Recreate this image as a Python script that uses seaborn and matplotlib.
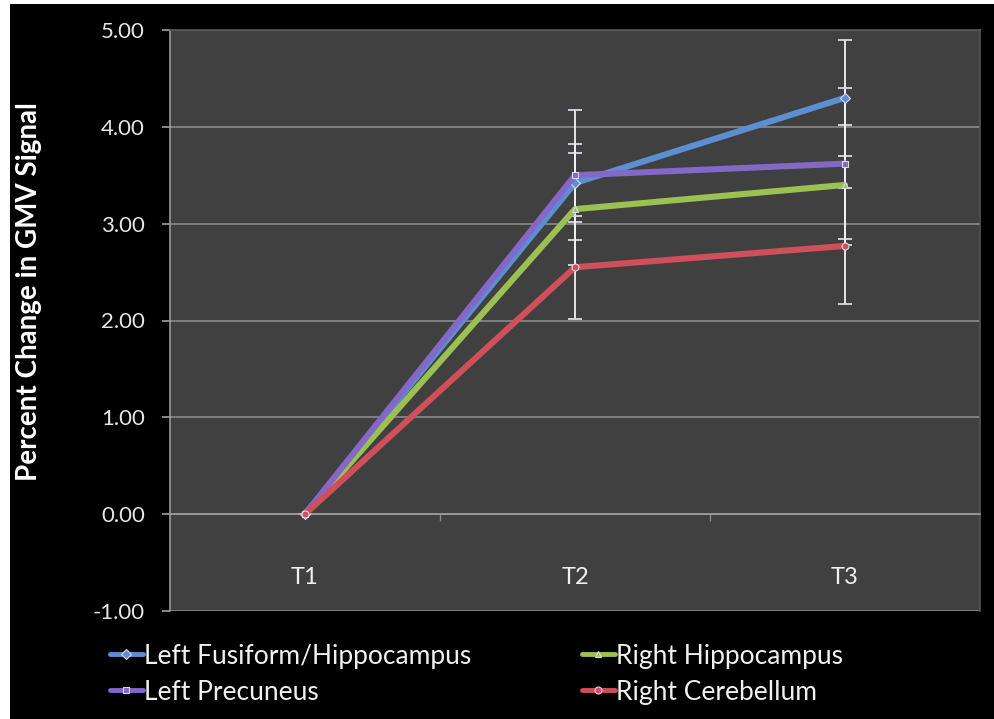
import numpy as np
import pandas as pd
import matplotlib
matplotlib.use("Agg")
import matplotlib.pyplot as plt
from matplotlib.patches import Rectangle
import seaborn as sns

# Time points and regions
timepoints = ["T1", "T2", "T3"]
regions = ["Left Fusiform/Hippocampus", "Right Hippocampus",
           "Left Precuneus", "Right Cerebellum"]

# Mean percent change in GMV signal per region
fusiform = [0.00, 3.42, 4.30]
r_hippo = [0.00, 3.15, 3.40]
precuneus = [0.00, 3.50, 3.62]
cerebellum = [0.00, 2.55, 2.77]

# Error bar half-widths
fusiform_err = [0.00, 0.40, 0.60]
r_hippo_err = [0.00, 0.58, 0.62]
precuneus_err = [0.00, 0.67, 0.78]
cerebellum_err = [0.00, 0.53, 0.60]

colors = ["#5b8fd2", "#9cc153", "#8468c8", "#cf4f5a"]
markers = ["D", "^", "s", "o"]

means = [fusiform, r_hippo, precuneus, cerebellum]
errs = [fusiform_err, r_hippo_err, precuneus_err, cerebellum_err]

rows = []
for reg, m, e in zip(regions, means, errs):
    for i, (tp, v, s) in enumerate(zip(timepoints, m, e)):
        rows.append({"region": reg, "pos": i, "time": tp, "value": v, "err": s})
df = pd.DataFrame(rows)

sns.set_theme(style="dark")
plt.rcParams["font.family"] = ["Lato", "DejaVu Sans"]

fig = plt.figure(figsize=(9.95, 7.19), dpi=100)
fig.patch.set_facecolor("white")
fig.add_artist(Rectangle((10 / 995, 0), 1 - 10 / 995, 1 - 4 / 719,
                         transform=fig.transFigure, facecolor="black",
                         edgecolor="none", zorder=-10))

ax = fig.add_axes([170 / 995, (719 - 611) / 719, 810 / 995, 581 / 719])
ax.set_facecolor("#404040")

# white error bars behind the lines
for reg in regions:
    sub = df[df.region == reg]
    ax.errorbar(sub.pos, sub.value, yerr=sub.err, fmt="none",
                ecolor="#f2f2f2", elinewidth=1.3, capsize=5, capthick=1.3,
                zorder=2)

sns.lineplot(data=df, x="pos", y="value", hue="region", hue_order=regions,
             palette=colors, style="region", style_order=regions,
             markers=markers, dashes=False, linewidth=4.4, markersize=5,
             markeredgewidth=0.8, ax=ax, zorder=3, legend=True)
for line in ax.lines:
    line.set_markeredgecolor("#d8d8e8")

ax.set_xlim(-0.5, 2.5)
ax.set_ylim(-1.0, 5.0)
ax.set_yticks(np.arange(-1, 6, 1))
ax.set_yticklabels([f"{v:.2f}" for v in np.arange(-1, 6, 1)])
ax.grid(axis="y", color="#8a8a8a", linewidth=1.2)
ax.grid(axis="x", visible=False)

# category axis crosses at zero
ax.spines["bottom"].set_position(("data", 0))
ax.spines["bottom"].set_color("#9a9a9a")
ax.spines["left"].set_color("#9a9a9a")
ax.spines["top"].set_color("#555555")
ax.spines["right"].set_color("#555555")
for s in ax.spines.values():
    s.set_linewidth(1.2)

ax.set_xticks(range(len(timepoints)))
ax.set_xticklabels(timepoints)
ax.set_xticks([0.5, 1.5], minor=True)
ax.tick_params(axis="x", which="major", length=0, pad=38,
               labelsize=17, labelcolor="#f0f0f0")
ax.tick_params(axis="x", which="minor", length=5, color="#888888",
               direction="out", bottom=True)
ax.tick_params(axis="y", length=6, color="#9a9a9a", left=True,
               direction="out", pad=12, labelsize=16, labelcolor="#e6e6e6")

ax.set_xlabel("")
ax.set_ylabel("Percent Change in GMV Signal", fontsize=20, fontweight="bold",
              color="white")
ax.yaxis.set_label_coords(-0.158, 0.55)

handles, labels = ax.get_legend_handles_labels()
ax.legend_.remove()
order = [0, 2, 1, 3]
leg = fig.legend([handles[i] for i in order], [labels[i] for i in order],
                 ncol=2, loc="upper left", bbox_to_anchor=(99 / 995, 1 - 633 / 719),
                 frameon=False, fontsize=19, labelcolor="#f0f0f0",
                 handlelength=1.25, handletextpad=0.05, columnspacing=4.2,
                 labelspacing=0.42, borderaxespad=0)
for h in leg.legend_handles:
    h.set_linewidth(3.5)

fig.savefig("out.png", dpi=100, facecolor=fig.get_facecolor())
